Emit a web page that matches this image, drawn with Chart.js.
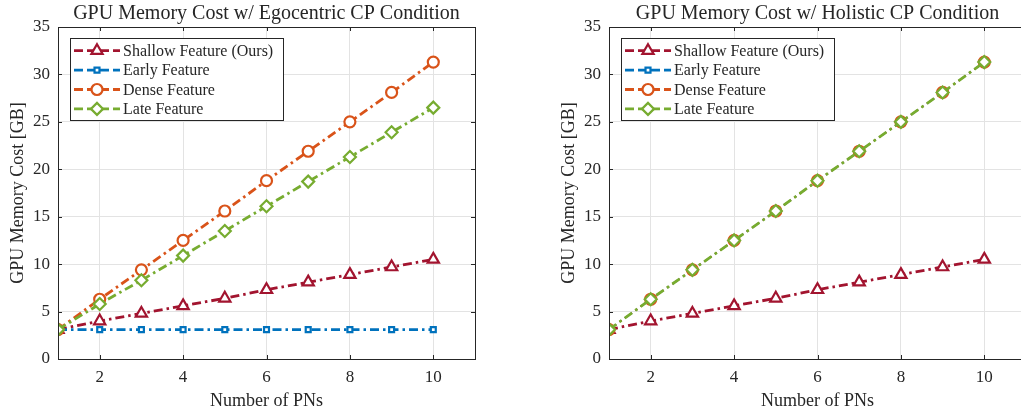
<!DOCTYPE html>
<html>
<head>
<meta charset="utf-8">
<script src="https://cdn.jsdelivr.net/npm/chart.js@4.4.1/dist/chart.umd.min.js"></script>
<style>
  html, body { margin: 0; padding: 0; background: #fff; overflow: hidden; }
  body { width: 1021px; height: 413px; position: relative; }
  .box { position: absolute; top: 0; width: 510px; height: 413px; }
  #boxEgo { left: 0; }
  #boxHol { left: 551px; }
</style>
</head>
<body>
<div class="box" id="boxEgo"><canvas id="chartEgo"></canvas></div>
<div class="box" id="boxHol"><canvas id="chartHol"></canvas></div>
<script>
// number of PNs on the x axis
const pnCounts = [1, 2, 3, 4, 5, 6, 7, 8, 9, 10];
const xTicks = [2, 4, 6, 8, 10];
const yTicks = [0, 5, 10, 15, 20, 25, 30, 35];

const seriesNames = ['Shallow Feature (Ours)', 'Early Feature', 'Dense Feature', 'Late Feature'];

// Egocentric CP condition
const egoShallow = [3.1, 4.0, 4.8, 5.6, 6.4, 7.3, 8.1, 8.9, 9.7, 10.5];
const egoEarly   = [3.1, 3.1, 3.1, 3.1, 3.1, 3.1, 3.1, 3.1, 3.1, 3.1];
const egoDense   = [3.1, 6.3, 9.4, 12.5, 15.6, 18.8, 21.9, 25.0, 28.1, 31.3];
const egoLate    = [3.1, 5.8, 8.3, 10.9, 13.5, 16.1, 18.7, 21.3, 23.9, 26.5];

// Holistic CP condition
const holShallow = [3.1, 4.0, 4.8, 5.6, 6.4, 7.3, 8.1, 8.9, 9.7, 10.5];
const holEarly   = [3.1, 6.3, 9.4, 12.5, 15.6, 18.8, 21.9, 25.0, 28.1, 31.3];
const holDense   = [3.1, 6.3, 9.4, 12.5, 15.6, 18.8, 21.9, 25.0, 28.1, 31.3];
const holLate    = [3.1, 6.3, 9.4, 12.5, 15.6, 18.8, 21.9, 25.0, 28.1, 31.3];

const colors = ['#A2142F', '#0072BD', '#D95319', '#77AC30'];
const markers = ['triangle', 'rect', 'circle', 'rectRot'];
const markerSize = [6.5, 3.5, 5.5, 6];
const dashDot = [9, 4, 2.5, 4];
const FONT = "'Liberation Serif', 'Times New Roman', serif";
const AXIS = '#262626';

function makeSets(arrs, widths) {
    return arrs.map((vals, i) => ({
        label: seriesNames[i],
        data: pnCounts.map((x, k) => ({ x: x, y: vals[k] })),
        order: arrs.length - i, // later series on top, as in MATLAB
        borderColor: colors[i],
        backgroundColor: colors[i],
        borderWidth: widths[i],
        borderDash: dashDot,
        pointStyle: markers[i],
        pointRadius: markerSize[i],
        pointBorderWidth: 2.2,
        pointBorderColor: colors[i],
        pointBackgroundColor: '#fff',
        tension: 0
    }));
}

// legend drawn inside the plot, top-left, MATLAB style
const insideLegend = {
    id: 'insideLegend',
    afterDraw(chart) {
        const ctx = chart.ctx, a = chart.chartArea;
        const x0 = a.left + 12, y0 = a.top + 11, w = 213, h = 82;
        ctx.save();
        ctx.fillStyle = '#fff';
        ctx.fillRect(x0, y0, w, h);
        ctx.strokeStyle = AXIS;
        ctx.lineWidth = 1;
        ctx.strokeRect(x0 + 0.5, y0 + 0.5, w, h);
        chart.data.datasets.forEach((ds, i) => {
            const y = y0 + 12.7 + i * 19.4;
            ctx.strokeStyle = ds.borderColor;
            ctx.lineWidth = 2.8;
            ctx.setLineDash([9, 4]);
            ctx.beginPath();
            ctx.moveTo(x0 + 4, y);
            ctx.lineTo(x0 + 50, y);
            ctx.stroke();
            ctx.setLineDash([]);
            ctx.fillStyle = '#fff';
            ctx.lineWidth = 2.2;
            Chart.helpers.drawPoint(ctx, { pointStyle: ds.pointStyle, radius: ds.pointRadius, rotation: 0, borderWidth: 2.2 }, x0 + 27, y);
            ctx.fillStyle = AXIS;
            ctx.font = '16px ' + FONT;
            ctx.textBaseline = 'middle';
            ctx.textAlign = 'left';
            ctx.fillText(ds.label, x0 + 53, y + 1);
        });
        ctx.restore();
    }
};

// closed box with inward tick marks
const frame = {
    id: 'frame',
    beforeDatasetsDraw(chart) {
        const ctx = chart.ctx, a = chart.chartArea;
        const xs = chart.scales.x, ys = chart.scales.y;
        ctx.save();
        ctx.strokeStyle = AXIS;
        ctx.lineWidth = 1;
        ctx.beginPath();
        xTicks.forEach(v => {
            const px = Math.round(xs.getPixelForValue(v)) + 0.5;
            ctx.moveTo(px, a.bottom); ctx.lineTo(px, a.bottom - 4);
            ctx.moveTo(px, a.top); ctx.lineTo(px, a.top + 4);
        });
        yTicks.forEach(v => {
            const py = Math.round(ys.getPixelForValue(v)) + 0.5;
            ctx.moveTo(a.left, py); ctx.lineTo(a.left + 4, py);
            ctx.moveTo(a.right, py); ctx.lineTo(a.right - 4, py);
        });
        ctx.stroke();
        ctx.restore();
    },
    afterDraw(chart) {
        const ctx = chart.ctx, a = chart.chartArea;
        ctx.save();
        ctx.strokeStyle = AXIS;
        ctx.lineWidth = 1;
        ctx.strokeRect(Math.round(a.left) + 0.5, Math.round(a.top) + 0.5,
            Math.round(a.right - a.left), Math.round(a.bottom - a.top));
        ctx.restore();
    }
};

function makeChart(id, title, arrs, widths) {
    new Chart(document.getElementById(id), {
        type: 'line',
        data: { datasets: makeSets(arrs, widths) },
        options: {
            responsive: true,
            maintainAspectRatio: false,
            animation: false,
            layout: { padding: { left: 0, right: 35, top: 0, bottom: 0 } },
            plugins: {
                legend: { display: false },
                tooltip: { enabled: false },
                title: {
                    display: true,
                    text: title,
                    fullSize: false,
                    color: AXIS,
                    font: { family: FONT, size: 20, weight: 'normal' },
                    padding: { top: 2, bottom: 1 }
                }
            },
            scales: {
                x: {
                    type: 'linear',
                    min: 1, max: 11,
                    afterBuildTicks: s => { s.ticks = xTicks.map(v => ({ value: v })); },
                    afterFit: s => { s.height = 54; },
                    grid: { color: '#e3e3e3', drawTicks: false },
                    border: { color: AXIS },
                    ticks: { color: AXIS, padding: 8, font: { family: FONT, size: 17 }, maxRotation: 0 },
                    title: { display: true, text: 'Number of PNs', color: AXIS,
                        font: { family: FONT, size: 18 }, padding: { top: 0, bottom: 1 } }
                },
                y: {
                    min: 0, max: 35,
                    afterBuildTicks: s => { s.ticks = yTicks.map(v => ({ value: v })); },
                    afterFit: s => { s.width = 58; },
                    grid: { color: '#e3e3e3', drawTicks: false },
                    border: { color: AXIS },
                    ticks: { color: AXIS, padding: 8, font: { family: FONT, size: 17 } },
                    title: { display: true, text: 'GPU Memory Cost [GB]', color: AXIS,
                        font: { family: FONT, size: 18 }, padding: { top: 7, bottom: 0 } }
                }
            }
        },
        plugins: [frame, insideLegend]
    });
}

makeChart('chartEgo', 'GPU Memory Cost w/ Egocentric CP Condition',
    [egoShallow, egoEarly, egoDense, egoLate], [2.8, 2.8, 2.8, 2.8]);
// hidden series under the green line drawn a bit thinner so they stay covered
makeChart('chartHol', 'GPU Memory Cost w/ Holistic CP Condition',
    [holShallow, holEarly, holDense, holLate], [2.8, 1.6, 1.6, 2.8]);
</script>
</body>
</html>
